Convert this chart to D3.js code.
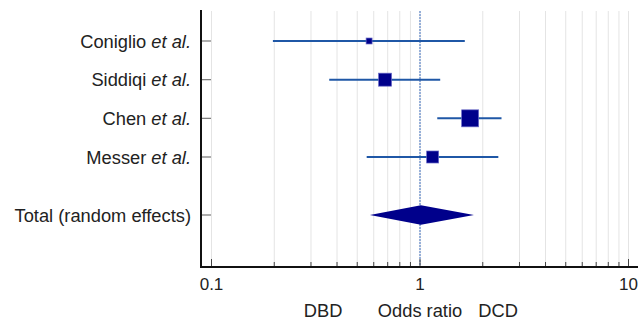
<!DOCTYPE html>
<html><head><meta charset="utf-8">
<script src="https://cdn.jsdelivr.net/npm/d3@7"></script>
<style>
html,body{margin:0;padding:0;background:#fff;}
svg{display:block;font-family:"Liberation Sans",Arial,Helvetica,sans-serif;}
</style></head>
<body>
<svg id="chart" width="638" height="325"></svg>
<script>
// ---- data ----
const studies = ["Coniglio", "Siddiqi", "Chen", "Messer"];
const oddsRatio = [0.57, 0.68, 1.74, 1.15];
const ciLow = [0.197, 0.367, 1.21, 0.555];
const ciHigh = [1.64, 1.25, 2.46, 2.375];
const weights = [5.6, 26.5, 45.3, 22.6];
const totalLabel = "Total (random effects)";
const totalOR = 1.01;
const totalLow = 0.575;
const totalHigh = 1.815;
const xTickValues = [0.1, 1, 10];
const xTickLabels = ["0.1", "1", "10"];
const sideLabels = ["DBD", "Odds ratio", "DCD"];
const sideLabelValues = [0.343, 1, 2.37];

// ---- layout ----
const svg = d3.select("#chart");
const mLeft = 201, mRight = 638, mTop = 10, mBottom = 267;
const fs = 18.3;
const x = d3.scaleLog().domain([0.1, 10]).range([211.5, 628.5]);
const y = d3.scaleLinear().domain([0, 4.5]).range([41, 215]);
const side = d3.scaleSqrt().domain([0, d3.max(weights)]).range([0, 17]);

// minor grid values
const gridVals = [];
for (let d = 0.1; d < 10; d *= 10) for (let k = 1; k <= 9; k++) gridVals.push(+(d * k).toPrecision(3));
gridVals.push(10);

svg.append("g").selectAll("line").data(gridVals).join("line")
  .attr("x1", d => x(d)).attr("x2", d => x(d))
  .attr("y1", mTop + 1).attr("y2", mBottom)
  .attr("stroke", "#e4e4e4").attr("stroke-width", 1);

// reference line
svg.append("line")
  .attr("x1", x(1)).attr("x2", x(1)).attr("y1", mTop + 1).attr("y2", mBottom)
  .attr("stroke", "#3d6fc0").attr("stroke-width", 1).attr("stroke-dasharray", "2,1");

// bottom axis ticks (pointing up)
svg.append("g").selectAll("line").data(gridVals).join("line")
  .attr("x1", d => x(d)).attr("x2", d => x(d))
  .attr("y1", mBottom).attr("y2", d => xTickValues.includes(d) ? mBottom - 8 : mBottom - 5)
  .attr("stroke", "#444").attr("stroke-width", 1);

// axis lines
svg.append("line").attr("x1", mLeft).attr("x2", mRight).attr("y1", mBottom).attr("y2", mBottom)
  .attr("stroke", "#111").attr("stroke-width", 2);
svg.append("line").attr("x1", mLeft).attr("x2", mLeft).attr("y1", mTop).attr("y2", mBottom + 1)
  .attr("stroke", "#111").attr("stroke-width", 2);

// y ticks
const rowsY = studies.map((s, i) => y(i)).concat([y(4.5)]);
svg.append("g").selectAll("line").data(rowsY).join("line")
  .attr("x1", mLeft + 1).attr("x2", mLeft + 10).attr("y1", d => d).attr("y2", d => d)
  .attr("stroke", "#777").attr("stroke-width", 1.2);

// x tick labels
svg.append("g").selectAll("text").data(xTickValues).join("text")
  .attr("x", d => x(d)).attr("y", 289.5).attr("text-anchor", "middle")
  .attr("font-size", 17).attr("fill", "#222")
  .text((d, i) => xTickLabels[i]);

// side labels
svg.append("g").selectAll("text").data(sideLabels).join("text")
  .attr("x", (d, i) => x(sideLabelValues[i])).attr("y", 317).attr("text-anchor", "middle")
  .attr("font-size", fs).attr("fill", "#222")
  .text(d => d);

// study labels
const lab = svg.append("g").selectAll("text").data(studies).join("text")
  .attr("x", 191).attr("y", (d, i) => y(i) + 6.5).attr("text-anchor", "end")
  .attr("font-size", fs).attr("fill", "#222");
lab.append("tspan").text(d => d + " ");
lab.append("tspan").attr("font-style", "italic").text("et al.");
svg.append("text").attr("x", 191).attr("y", y(4.5) + 6.5).attr("text-anchor", "end")
  .attr("font-size", fs).attr("fill", "#222").text(totalLabel);

// CI lines
svg.append("g").selectAll("line").data(studies).join("line")
  .attr("x1", (d, i) => x(ciLow[i])).attr("x2", (d, i) => x(ciHigh[i]))
  .attr("y1", (d, i) => y(i)).attr("y2", (d, i) => y(i))
  .attr("stroke", "#1f57a6").attr("stroke-width", 2);

// squares
svg.append("g").selectAll("rect").data(studies).join("rect")
  .attr("x", (d, i) => x(oddsRatio[i]) - side(weights[i]) / 2)
  .attr("y", (d, i) => y(i) - side(weights[i]) / 2)
  .attr("width", (d, i) => side(weights[i]))
  .attr("height", (d, i) => side(weights[i]))
  .attr("fill", "#00008b").attr("stroke", "#6a6ac8").attr("stroke-width", 0.7);

// diamond
const ty = y(4.5), hh = 9.7;
svg.append("path")
  .attr("d", `M${x(totalLow)},${ty} L${x(totalOR)},${ty - hh} L${x(totalHigh)},${ty} L${x(totalOR)},${ty + hh} Z`)
  .attr("fill", "#00008b");
</script>
</body></html>
